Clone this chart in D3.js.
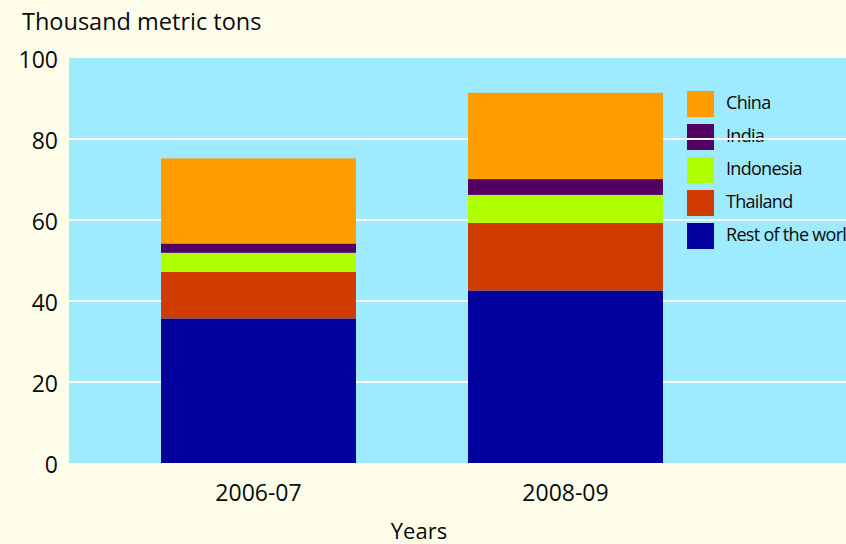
<!DOCTYPE html>
<html>
<head>
<meta charset="utf-8">
<script src="https://cdn.jsdelivr.net/npm/d3@7"></script>
<style>
  html, body { margin: 0; padding: 0; background: #fefeeb; }
  svg { display: block; }
  text { font-family: "Open Sans", "Noto Sans", sans-serif; fill: #0a0a0a; }
</style>
</head>
<body>
<svg id="chart" width="846" height="544"></svg>
<script>
// Marketing years on the x axis
const years = ["2006-07", "2008-09"];
// Stack order, bottom to top
const regions = ["Rest of the world", "Thailand", "Indonesia", "India", "China"];
// Thousand metric tons per region, one value per year
const restOfWorld = [35.7, 42.6];
const thailand    = [11.5, 16.7];
const indonesia   = [4.7, 6.9];
const india       = [2.3, 3.9];
const china       = [21.0, 21.3];
const colors = ["#00009c", "#d03c00", "#b0ff00", "#540062", "#ff9c00"];
const yTicks = [0, 20, 40, 60, 80, 100];
const legendOrder = ["China", "India", "Indonesia", "Thailand", "Rest of the world"];

const seriesValues = [restOfWorld, thailand, indonesia, india, china];
const rows = years.map((y, i) => {
  const r = { year: y };
  regions.forEach((k, j) => { r[k] = seriesValues[j][i]; });
  return r;
});

const svg = d3.select("#chart");
const plot = { left: 69, right: 846, top: 58, bottom: 463 };

const x = d3.scaleBand().domain(years).range([105, 719])
  .paddingInner(0.365).paddingOuter(0.1825);
const y = d3.scaleLinear().domain([0, 100]).range([plot.bottom, plot.top]);
const color = d3.scaleOrdinal().domain(regions).range(colors);

// Plot background
svg.append("rect")
  .attr("x", plot.left).attr("y", plot.top)
  .attr("width", plot.right - plot.left).attr("height", plot.bottom - plot.top)
  .attr("fill", "#9eeafe");

// Legend labels (gridlines run across them)
const legend = svg.append("g");
const legendX = 687, legendY = 91, legendStep = 33;
legend.selectAll("text").data(legendOrder).join("text")
  .attr("x", legendX + 39)
  .attr("y", (d, i) => legendY + i * legendStep + 17.5)
  .attr("font-size", 18)
  .attr("letter-spacing", "-0.7px")
  .text(d => d);

// Horizontal gridlines
svg.append("g").selectAll("line").data(yTicks.filter(t => t > 0 && t < 100)).join("line")
  .attr("x1", plot.left).attr("x2", plot.right)
  .attr("y1", d => y(d)).attr("y2", d => y(d))
  .attr("stroke", "#ffffff").attr("stroke-width", 2);

// Legend swatches
legend.selectAll("rect").data(legendOrder).join("rect")
  .attr("x", legendX)
  .attr("y", (d, i) => legendY + i * legendStep)
  .attr("width", 27).attr("height", 26)
  .attr("fill", d => color(d));

// Stacked bars
const stacked = d3.stack().keys(regions)(rows);
svg.append("g").selectAll("g").data(stacked).join("g")
  .attr("fill", d => color(d.key))
  .selectAll("rect").data(d => d).join("rect")
  .attr("x", d => x(d.data.year))
  .attr("width", x.bandwidth())
  .attr("y", d => y(d[1]))
  .attr("height", d => y(d[0]) - y(d[1]));

// Y axis labels
const yAxis = svg.append("g")
  .attr("transform", `translate(${plot.left},0)`)
  .call(d3.axisLeft(y).tickValues(yTicks).tickSize(0).tickPadding(11).tickFormat(d3.format("d")));
yAxis.select(".domain").remove();
yAxis.selectAll("text").attr("font-size", 23).attr("font-family", null).attr("dy", "0.4em");

// X axis labels
const xAxis = svg.append("g")
  .attr("transform", `translate(0,${plot.bottom})`)
  .call(d3.axisBottom(x).tickSize(0).tickPadding(22));
xAxis.select(".domain").remove();
xAxis.selectAll("text").attr("font-size", 23).attr("font-family", null);

// Axis titles
svg.append("text").attr("x", 22).attr("y", 30)
  .attr("font-size", 23.5).text("Thousand metric tons");
svg.append("text").attr("x", 419).attr("y", 539)
  .attr("text-anchor", "middle").attr("font-size", 22).text("Years");
</script>
</body>
</html>
